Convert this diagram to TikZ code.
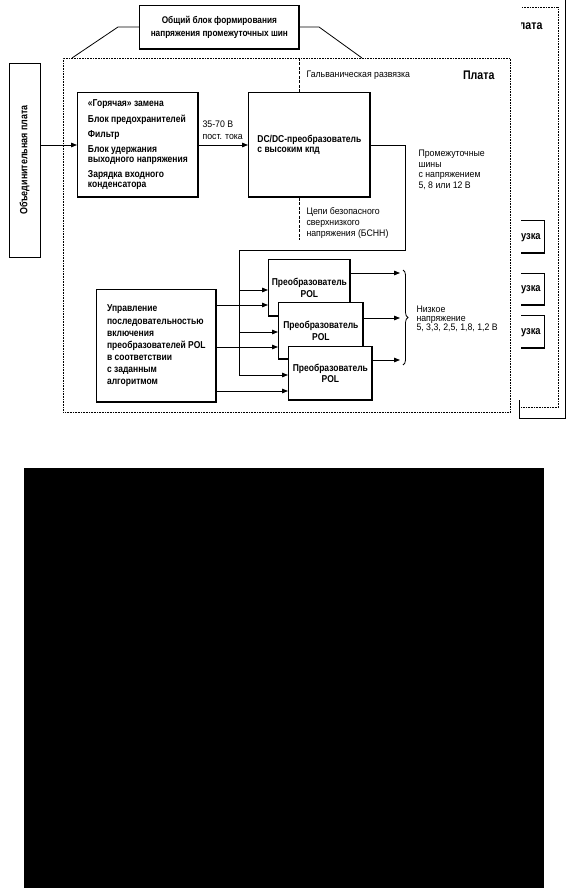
\documentclass[tikz,border=0pt]{standalone}
\usepackage{fontspec}
\setmainfont{Liberation Sans}[FakeStretch=0.85]
\newfontfamily\lblfont{Liberation Sans}[FakeStretch=0.92]
\usetikzlibrary{arrows.meta,decorations.pathreplacing}
\begin{document}
\begin{tikzpicture}[x=1pt,y=-1pt,
  bt/.style={font=\fontsize{10}{10}\selectfont\bfseries},
  rt/.style={font=\lblfont\fontsize{9.5}{10.5}\selectfont},
  heavy/.style={path picture={\draw[line width=2pt] (path picture bounding box.south west) -- (path picture bounding box.south east) -- (path picture bounding box.north east);}},
  blk0/.style={draw, line width=0.7pt, fill=white, inner sep=0pt, align=left, bt},
  blk/.style={blk0, heavy},
  board/.style={draw, line width=0.6pt, dash pattern=on 0.7pt off 0.9pt},
  arr/.style={-{Triangle[length=6pt,width=4.6pt]}, line width=0.8pt},
  conn/.style={line width=0.8pt},
  iso/.style={line width=0.8pt, dash pattern=on 3pt off 1.5pt}
]
\useasboundingbox (0,0) rectangle (567,888);
\fill[white] (0,0) rectangle (567,888);

% back boards
\begin{scope}
  \clip (521,0) rectangle (567,888);
  \node[board, minimum width=100pt, minimum height=400pt, anchor=north east] (plata2) at (559,7) {};
  \node[font=\fontsize{12.5}{14}\selectfont\bfseries, anchor=base east] (plata2L) at (546,30) {Плата};
  \node[blk, font=\fontsize{11}{12}\selectfont\bfseries, text width=62pt, align=right, inner xsep=4pt, minimum height=33pt, anchor=north east] (load1) at (545,220) {Нагрузка};
  \node[blk, font=\fontsize{11}{12}\selectfont\bfseries, text width=62pt, align=right, inner xsep=4pt, minimum height=32pt, anchor=north east] (load2) at (545,273) {Нагрузка};
  \node[blk, font=\fontsize{11}{12}\selectfont\bfseries, text width=62pt, align=right, inner xsep=4pt, minimum height=33pt, anchor=north east] (load3) at (545,315) {Нагрузка};
\end{scope}
\draw[line width=0.7pt] (565,0) -- (565,418) -- (519,418) -- (519,400);

% main board
\node[board, fill=white, minimum width=447pt, minimum height=354pt, anchor=north west] (plata) at (63,58) {};
\node[font=\fontsize{12.5}{14}\selectfont\bfseries, anchor=base east] (plataL) at (498,80) {Плата};

% top block
\node[blk, align=center, font=\fontsize{9.7}{12.5}\selectfont\bfseries, minimum width=160pt, minimum height=44pt, anchor=north west] (top) at (139,5) {Общий блок формирования\\напряжения промежуточных шин};
\coordinate (tl1) at (118,27);
\coordinate (tl2) at (72,58);
\coordinate (tr1) at (319,27);
\coordinate (tr2) at (362,58);
\draw[conn] (top.west |- tl1) -- (tl1) -- (tl2);
\draw[conn] (top.east |- tr1) -- (tr1) -- (tr2);

% backplane
\node[blk0, font=\fontsize{10.5}{12}\selectfont\bfseries, minimum width=31pt, minimum height=194pt] (obed) at (24.5,160) {\rotatebox{90}{Объединительная плата}};

% input block
\node[blk, minimum width=121pt, minimum height=105pt, anchor=north west] (box1) at (77,92) {«Горячая» замена\\[5.5pt]Блок предохранителей\\[5pt]Фильтр\\[5pt]Блок удержания\\выходного напряжения\\[5.5pt]Зарядка входного\\конденсатора};

% DC/DC
\node[blk, minimum width=122pt, minimum height=105pt, anchor=north west] (dcdc) at (248,92) {DC/DC-преобразователь\\с высоким кпд};

\coordinate (y145) at (0,145);
\draw[arr] (obed.east |- y145) -- (box1.west |- y145);
\draw[arr] (box1.east |- y145) -- (dcdc.west |- y145);
\node[rt, anchor=west, align=left, font=\lblfont\fontsize{9.5}{11.5}\selectfont] (v3570) at (199,130) {35-70 В\\пост. тока};

% galvanic isolation
\coordinate (gx) at (299,0);
\coordinate (gend) at (299,240);
\draw[iso] (gx |- plata.north) -- (gx |- dcdc.north);
\draw[iso] (gx |- dcdc.south) -- (gend);
\node[rt, anchor=west] (galv) at (303,75) {Гальваническая развязка};
\node[rt, anchor=west, align=left, font=\lblfont\fontsize{9.5}{11}\selectfont] (bsnn) at (303,223) {Цепи безопасного\\сверхнизкого\\напряжения (БСНН)};
\node[rt, anchor=west, align=left] (prom) at (415,170) {Промежуточные\\шины\\с напряжением\\5, 8 или 12 В};

% control block
\node[blk, font=\fontsize{10}{12.1}\selectfont\bfseries, minimum width=120pt, minimum height=113pt, anchor=north west] (ctrl) at (96,289) {Управление\\последовательностью\\включения\\преобразователей POL\\в соответствии\\с заданным\\алгоритмом};

% POL converters
\node[blk, align=center, font=\fontsize{10}{11.5}\selectfont\bfseries, minimum width=82pt, minimum height=57pt, anchor=north west] (pol1) at (268,259) {Преобразователь\\POL};
\node[blk, align=center, font=\fontsize{10}{11.5}\selectfont\bfseries, minimum width=85pt, minimum height=57pt, anchor=north west] (pol2) at (278,302) {Преобразователь\\POL};
\node[blk, align=center, font=\fontsize{10}{11.5}\selectfont\bfseries, minimum width=84pt, minimum height=54pt, anchor=north west] (pol3) at (288,346) {Преобразователь\\POL};

% intermediate bus
\coordinate (busR) at (405,250);
\coordinate (busB) at (239,375);
\draw[arr] (dcdc.east |- y145) -| (busR) -| (busB) -- (pol3.west |- busB);
\draw[arr] (busB |- 0,290) -- (pol1.west |- 0,290);
\draw[arr] (busB |- 0,332) -- (pol2.west |- 0,332);
\draw[arr] (ctrl.east |- 0,305) -- (pol1.west |- 0,305);
\draw[arr] (ctrl.east |- 0,347) -- (pol2.west |- 0,347);
\draw[arr] (ctrl.east |- 0,391) -- (pol3.west |- 0,391);

% outputs
\coordinate (outx) at (400,0);
\draw[arr] (pol1.east |- 0,273) -- (outx |- 0,273);
\draw[arr] (pol2.east |- 0,318) -- (outx |- 0,318);
\draw[arr] (pol3.east |- 0,360) -- (outx |- 0,360);
\draw[line width=0.8pt, decorate, decoration={brace, amplitude=5pt}] (403,270) -- (403,365);
\node[rt, anchor=west, align=left, font=\lblfont\fontsize{9.5}{9}\selectfont] (low) at (413,318.5) {Низкое\\напряжение\\5, 3,3, 2,5, 1,8, 1,2 В};

% black area
\fill[black] (24,468) rectangle (544,888);
\end{tikzpicture}
\end{document}
